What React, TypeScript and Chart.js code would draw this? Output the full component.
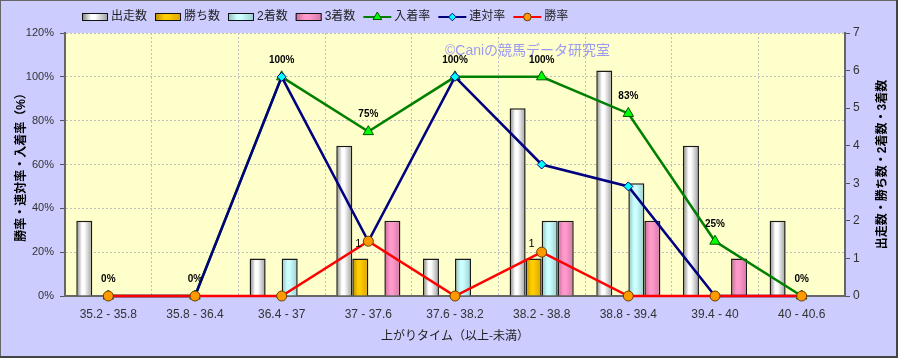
import React, { useEffect, useRef } from 'react';
import { Chart, registerables } from 'chart.js';

Chart.register(...registerables);

const categories = ['35.2 - 35.8', '35.8 - 36.4', '36.4 - 37', '37 - 37.6', '37.6 - 38.2', '38.2 - 38.8', '38.8 - 39.4', '39.4 - 40', '40 - 40.6'];
const starts = [2, 0, 1, 4, 1, 5, 6, 4, 2];
const wins = [0, 0, 0, 1, 0, 1, 0, 0, 0];
const seconds = [0, 0, 1, 0, 1, 2, 3, 0, 0];
const thirds = [0, 0, 0, 2, 0, 2, 2, 1, 0];
const placeRate = [0, 0, 100, 75, 100, 100, 83.3, 25, 0];
const quinellaRate = [0, 0, 100, 25, 100, 60, 50, 0, 0];
const winRate = [0, 0, 0, 25, 0, 20, 0, 0, 0];

const leftTickSuffix = '%';
const xTitle = '上がりタイム（以上-未満）';
const leftTitle = '勝率・連対率・入着率（%）';
const rightTitle = '出走数・勝ち数・2着数・3着数';
const watermark = '©Caniの競馬データ研究室';

const CJK = '"Noto Sans CJK JP", sans-serif';
const LAT = '"Liberation Sans", "Noto Sans CJK JP", sans-serif';

const barStops: Record<string, string[]> = {
  '出走数': ['#7c7c7c', '#ffffff', '#9c9c9c'],
  '勝ち数': ['#b88a00', '#ffcc00', '#d9a300'],
  '2着数': ['#8fbfbf', '#ccffff', '#99cccc'],
  '3着数': ['#c46a98', '#ff99cc', '#d07aa5'],
};

function makeGrad(ctx: CanvasRenderingContext2D, x0: number, x1: number, stops: string[]) {
  const g = ctx.createLinearGradient(x0, 0, x1, 0);
  g.addColorStop(0, stops[0]);
  g.addColorStop(0.35, stops[1]);
  g.addColorStop(0.5, stops[1]);
  g.addColorStop(1, stops[2]);
  return g;
}

function drawMarker(ctx: CanvasRenderingContext2D, style: string, x: number, y: number, r: number, fill: string, stroke: string) {
  ctx.save();
  ctx.beginPath();
  if (style === 'triangle') {
    ctx.moveTo(x, y - r);
    ctx.lineTo(x + r * 0.866, y + r * 0.5);
    ctx.lineTo(x - r * 0.866, y + r * 0.5);
    ctx.closePath();
  } else if (style === 'rectRot') {
    ctx.moveTo(x, y - r);
    ctx.lineTo(x + r, y);
    ctx.lineTo(x, y + r);
    ctx.lineTo(x - r, y);
    ctx.closePath();
  } else {
    ctx.arc(x, y, r, 0, Math.PI * 2);
  }
  ctx.fillStyle = fill;
  ctx.fill();
  ctx.lineWidth = 1;
  ctx.strokeStyle = stroke;
  ctx.stroke();
  ctx.restore();
}

const decor = {
  id: 'decor',
  beforeDraw(chart: any) {
    const { ctx, width, height, chartArea: ca } = chart;
    ctx.save();
    ctx.fillStyle = '#ccccff';
    ctx.fillRect(0, 0, width, height);
    ctx.fillStyle = '#ffffcc';
    ctx.fillRect(ca.left, ca.top, ca.right - ca.left, ca.bottom - ca.top);
    ctx.restore();
  },
  beforeDatasetsDraw(chart: any) {
    const { ctx } = chart;
    chart.data.datasets.forEach((ds: any, di: number) => {
      if (ds.type !== 'bar') return;
      const meta = chart.getDatasetMeta(di);
      const stops = barStops[ds.label];
      meta.data.forEach((el: any) => {
        const p = el.getProps(['x', 'width'], true);
        const g = makeGrad(ctx, p.x - p.width / 2, p.x + p.width / 2, stops);
        el.options = Object.assign({}, el.options, { backgroundColor: g });
      });
    });
    ctx.save();
    ctx.font = '14px ' + LAT;
    ctx.fillStyle = '#9a9af0';
    ctx.textAlign = 'left';
    ctx.textBaseline = 'middle';
    ctx.fillText(watermark, 445, 51);
    ctx.restore();
  },
  afterDatasetsDraw(chart: any) {
    const { ctx } = chart;
    ctx.save();
    ctx.fillStyle = '#000';
    ctx.textAlign = 'center';
    ctx.textBaseline = 'middle';
    ctx.font = 'bold 10px "Liberation Sans", sans-serif';
    const pm = chart.getDatasetMeta(4);
    pm.data.forEach((pt: any, i: number) => {
      ctx.fillText(Math.round(placeRate[i]) + '%', pt.x, pt.y - 17);
    });
    ctx.font = '11px "Liberation Sans", sans-serif';
    const wm = chart.getDatasetMeta(1);
    wm.data.forEach((b: any, i: number) => {
      if (wins[i]) ctx.fillText(String(wins[i]), b.x - 2, b.y - 14);
    });
    ctx.restore();
  },
  afterDraw(chart: any) {
    const { ctx, width, height, chartArea: ca } = chart;
    ctx.save();
    let x = 82;
    const y = 17;
    ctx.font = '12px ' + LAT;
    ctx.textBaseline = 'middle';
    ctx.textAlign = 'left';
    chart.data.datasets.forEach((ds: any) => {
      if (ds.type === 'bar') {
        const w = 26;
        ctx.fillStyle = makeGrad(ctx, x, x + w, barStops[ds.label]);
        ctx.fillRect(x, y - 3, w, 6);
        ctx.lineWidth = 1;
        ctx.strokeStyle = '#111';
        ctx.strokeRect(x + 0.5, y - 3.5, w - 1, 7);
        x += w + 3;
      } else {
        const w = 28;
        ctx.beginPath();
        ctx.moveTo(x, y);
        ctx.lineTo(x + w, y);
        ctx.lineWidth = 2;
        ctx.strokeStyle = ds.borderColor;
        ctx.stroke();
        const r = ds.pointStyle === 'triangle' ? 5 : 3.8;
        drawMarker(ctx, ds.pointStyle, x + w / 2, y, r, ds.pointBackgroundColor, ds.pointBorderColor);
        x += w + 3;
      }
      ctx.fillStyle = '#222';
      ctx.fillText(ds.label, x, y);
      x += ctx.measureText(ds.label).width + 8;
    });
    ctx.save();
    ctx.translate(883, (ca.top + ca.bottom) / 2);
    ctx.rotate(-Math.PI / 2);
    ctx.font = 'bold 12px ' + LAT;
    ctx.fillStyle = '#000';
    ctx.textAlign = 'center';
    ctx.textBaseline = 'middle';
    ctx.fillText(rightTitle, 0, 0);
    ctx.restore();
    ctx.strokeStyle = '#666';
    ctx.lineWidth = 1;
    ctx.strokeRect(0.5, 0.5, width - 1, height - 1);
    ctx.fillStyle = '#444';
    ctx.fillRect(width - 2, 0, 2, height);
    ctx.fillRect(0, height - 2, width, 2);
    ctx.restore();
  },
};

export default function App() {
  const ref = useRef<HTMLCanvasElement>(null);

  useEffect(() => {
    document.body.style.margin = '0';
    const canvas = ref.current;
    if (!canvas) return;
    const barDs = (label: string, data: number[]) => ({
      type: 'bar' as const,
      label,
      data,
      yAxisID: 'y1',
      order: 5,
      backgroundColor: barStops[label][1],
      borderColor: '#1a1a1a',
      borderWidth: 1.5,
      categoryPercentage: 0.74,
      barPercentage: 1,
    });
    const lineDs = (label: string, data: number[], color: string, pointStyle: string, fill: string, stroke: string, radius: number, order: number) => ({
      type: 'line' as const,
      label,
      data,
      yAxisID: 'y',
      order,
      borderColor: color,
      borderWidth: 2.5,
      tension: 0,
      pointStyle,
      pointRadius: radius,
      pointHoverRadius: radius,
      pointBackgroundColor: fill,
      pointBorderColor: stroke,
      pointBorderWidth: 1,
      clip: false,
    });

    const chart = new Chart(canvas, {
      type: 'bar',
      data: {
        labels: categories,
        datasets: [
          barDs('出走数', starts),
          barDs('勝ち数', wins),
          barDs('2着数', seconds),
          barDs('3着数', thirds),
          lineDs('入着率', placeRate, '#008000', 'triangle', '#00ff00', '#005500', 6, 3),
          lineDs('連対率', quinellaRate, '#000080', 'rectRot', '#00ffff', '#000080', 4.5, 2),
          lineDs('勝率', winRate, '#ff0000', 'circle', '#ff9900', '#6b3a00', 5, 1),
        ] as any,
      },
      plugins: [decor],
      options: {
        responsive: false,
        animation: false,
        devicePixelRatio: 1,
        layout: { padding: { top: 33, left: 0, right: 0, bottom: 0 } },
        plugins: {
          legend: { display: false },
          tooltip: { enabled: false },
        },
        scales: {
          x: {
            type: 'category',
            offset: true,
            afterFit: (s: any) => { s.height = 62; },
            grid: { color: '#c0c0c0', lineWidth: 1, drawTicks: false, offset: true },
            border: { display: true, color: '#666', width: 2, dash: [2, 2] },
            ticks: { font: { size: 12, family: LAT }, color: '#333', padding: 11, maxRotation: 0, autoSkip: false },
            title: { display: true, text: xTitle, font: { size: 12, family: CJK }, color: '#222', padding: { top: 0, bottom: 15 } },
          },
          y: {
            position: 'left',
            min: 0,
            max: 120,
            afterFit: (s: any) => { s.width = 65; },
            grid: { color: '#c0c0c0', lineWidth: 1, tickLength: 5, tickColor: '#555' },
            border: { display: true, color: '#666', width: 2, dash: [2, 2] },
            ticks: { stepSize: 20, font: { size: 11, family: LAT }, color: '#333', padding: 6, callback: (v: any) => v + leftTickSuffix },
            title: { display: true, text: leftTitle, font: { size: 12, family: LAT, weight: 'bold' }, color: '#000', padding: { top: 14, bottom: 0 } },
          },
          y1: {
            position: 'right',
            min: 0,
            max: 7,
            afterFit: (s: any) => { s.width = 53; },
            grid: { drawOnChartArea: false, tickLength: 5, color: '#555', tickColor: '#555' },
            border: { display: true, color: '#666', width: 2 },
            ticks: { stepSize: 1, font: { size: 12, family: LAT }, color: '#333', padding: 3 },
          },
        },
      } as any,
    });
    return () => chart.destroy();
  }, []);

  return (
    <div style={{ width: 898, height: 358 }}>
      <canvas ref={ref} width={898} height={358} style={{ display: 'block', width: 898, height: 358 }} />
    </div>
  );
}
